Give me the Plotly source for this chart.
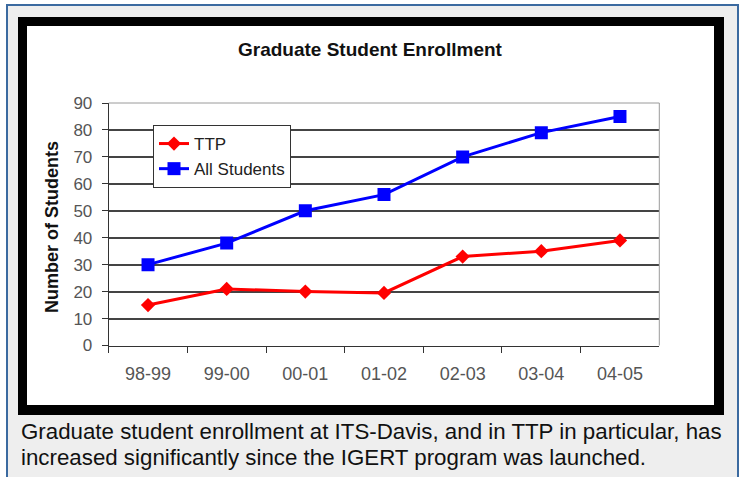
import plotly.graph_objects as go

W, H = 743, 477

categories = ["98-99", "99-00", "00-01", "01-02", "02-03", "03-04", "04-05"]
ttp = [15, 21, 20, 19.5, 33, 35, 39]
all_students = [30, 38, 50, 56, 70, 79, 85]
y_ticks = [0, 10, 20, 30, 40, 50, 60, 70, 80, 90]

title = "Graduate Student Enrollment"
y_title = "Number of Students"
caption1 = "Graduate student enrollment at ITS-Davis, and in TTP in particular, has"
caption2 = "increased significantly since the IGERT program was launched."

def px(x):
    return x / W

def py(y):
    return 1 - y / H

FONT = "Liberation Sans, Arial, sans-serif"

PL, PR, PT, PB = 108.7, 659.3, 103, 345.5

fig = go.Figure()
fig.add_trace(go.Scatter(
    x=categories, y=ttp, name="TTP", mode="lines+markers",
    line=dict(color="#ff0000", width=3),
    marker=dict(symbol="diamond", size=11, color="#ff0000"),
))
fig.add_trace(go.Scatter(
    x=categories, y=all_students, name="All Students", mode="lines+markers",
    line=dict(color="#0000ff", width=3),
    marker=dict(symbol="square", size=13, color="#0000ff"),
))

shapes = [
    dict(type="rect", xref="paper", yref="paper", x0=px(7), x1=px(738), y0=py(485), y1=py(5),
         fillcolor="#eeeeee", line=dict(color="#3b6aa0", width=2), layer="below"),
    dict(type="rect", xref="paper", yref="paper", x0=px(18), x1=px(724), y0=py(415), y1=py(17),
         fillcolor="#000000", line=dict(width=0), layer="below"),
    dict(type="rect", xref="paper", yref="paper", x0=px(27), x1=px(714), y0=py(405), y1=py(26),
         fillcolor="#ffffff", line=dict(width=0), layer="below"),
    dict(type="line", xref="paper", yref="paper", x0=px(PL), x1=px(PR), y0=py(PT), y1=py(PT),
         line=dict(color="#9a9a9a", width=1), layer="above"),
    dict(type="line", xref="paper", yref="paper", x0=px(PR), x1=px(PR), y0=py(PB), y1=py(PT),
         line=dict(color="#9a9a9a", width=1), layer="above"),
]

annotations = [
    dict(text="<b>" + title + "</b>", xref="paper", yref="paper", x=px(370), y=py(49),
         xanchor="center", yanchor="middle",
         showarrow=False, font=dict(family=FONT, size=19, color="#111111")),
    dict(text="<b>" + y_title + "</b>", xref="paper", yref="paper", x=px(52), y=py(227),
         xanchor="center", yanchor="middle", textangle=-90, showarrow=False,
         font=dict(family=FONT, size=18, color="#111111")),
    dict(text=caption1, xref="paper", yref="paper", x=px(19), y=py(431), xanchor="left", yanchor="middle",
         showarrow=False, font=dict(family=FONT, size=22.3, color="#111111")),
    dict(text=caption2, xref="paper", yref="paper", x=px(19), y=py(457), xanchor="left", yanchor="middle",
         showarrow=False, font=dict(family=FONT, size=22.3, color="#111111")),
]

fig.update_layout(
    width=W, height=H,
    autosize=False,
    margin=dict(l=0, r=0, t=0, b=0, pad=0, autoexpand=False),
    paper_bgcolor="#ffffff",
    plot_bgcolor="#c0c0c0",
    shapes=shapes,
    annotations=annotations,
    showlegend=True,
    legend=dict(
        x=px(153), y=py(125), xanchor="left", yanchor="top",
        bgcolor="#ffffff", bordercolor="#333333", borderwidth=1,
        font=dict(family=FONT, size=17, color="#222222"),
        tracegroupgap=0,
    ),
    xaxis=dict(
        domain=[px(PL), px(PR)], automargin=False,
        type="category", range=[-0.5, 6.5],
        tickson="boundaries", ticks="outside", ticklen=6, tickcolor="#333333", tickwidth=1,
        showline=True, linecolor="#333333", linewidth=1,
        showgrid=False, zeroline=False,
        tickfont=dict(family=FONT, size=18, color="#555555"),
        ticklabelstandoff=12,
    ),
    yaxis=dict(
        domain=[py(PB), py(PT)], automargin=False,
        range=[0, 90], tickvals=y_ticks,
        ticks="outside", ticklen=6, tickcolor="#333333", tickwidth=1,
        showline=True, linecolor="#333333", linewidth=1,
        showgrid=True, gridcolor="#444444", gridwidth=1.5,
        zeroline=False,
        tickfont=dict(family=FONT, size=17, color="#555555"),
        ticklabelstandoff=6,
    ),
)

fig.write_html("out.html", config={"displayModeBar": False},
               post_script="document.body.style.margin='0';")
